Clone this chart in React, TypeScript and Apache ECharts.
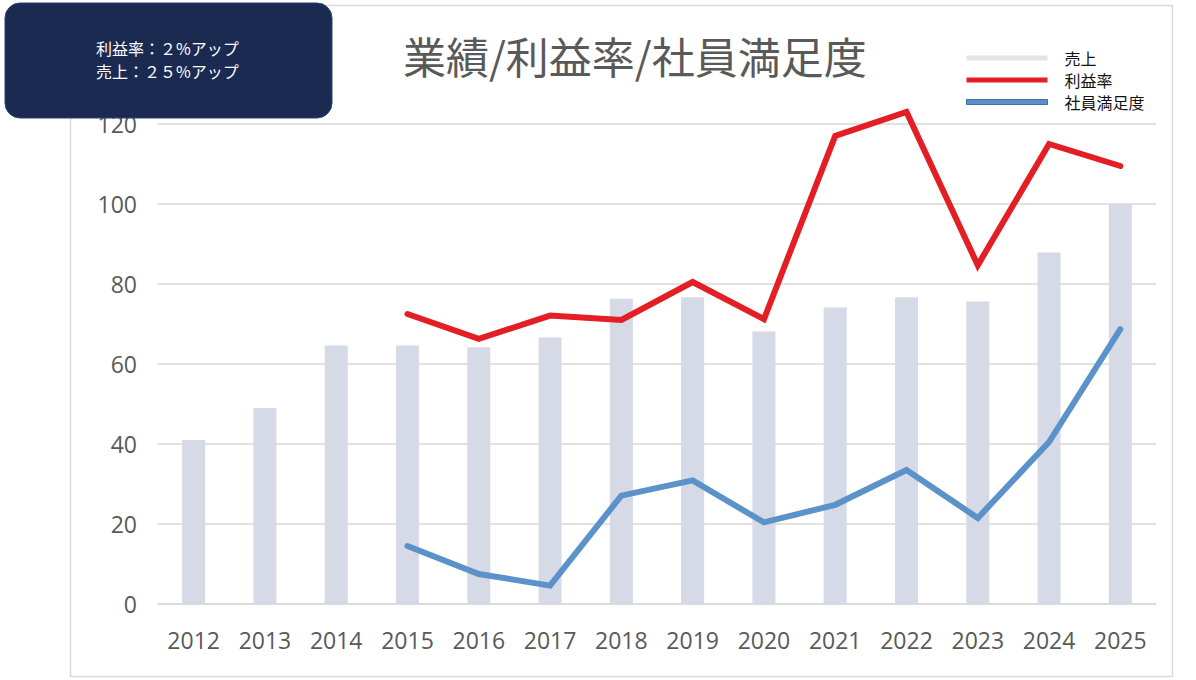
import React, { useEffect, useRef } from "react";
import * as echarts from "echarts";

const years = ["2012", "2013", "2014", "2015", "2016", "2017", "2018", "2019", "2020", "2021", "2022", "2023", "2024", "2025"];
const sales = [41, 49, 64.6, 64.6, 64.2, 66.6, 76.3, 76.7, 68.1, 74.1, 76.7, 75.6, 87.9, 100];
const profitRate = [null, null, null, 72.5, 66.3, 72.1, 71, 80.5, 71.2, 117, 123, 84.7, 115, 109.5];
const satisfaction = [null, null, null, 14.5, 7.5, 4.6, 27.1, 30.9, 20.4, 24.8, 33.5, 21.5, 40.5, 68.7];
const yTicks = [0, 20, 40, 60, 80, 100, 120];
const seriesNames = ["売上", "利益率", "社員満足度"];
const titleText = "業績/利益率/社員満足度";
const noteLines = ["利益率：２%アップ", "売上：２５%アップ"];

const FONT = "'Noto Sans CJK JP', 'Noto Sans', sans-serif";
const NUM_FONT = "'Open Sans', sans-serif";

export default function App() {
  const ref = useRef<HTMLDivElement>(null);
  useEffect(() => {
    document.body.style.margin = "0";
    if (!ref.current) return;
    const chart = echarts.init(ref.current, null, { renderer: "svg" });
    chart.setOption({
      animation: false,
      backgroundColor: "#ffffff",
      textStyle: { fontFamily: FONT },
      title: {
        text: titleText,
        left: 398,
        top: 28,
        textStyle: { fontSize: 43, fontWeight: "normal", color: "#595959", fontFamily: FONT },
      },
      legend: {
        orient: "vertical",
        left: 961,
        top: 45,
        itemWidth: 81,
        itemHeight: 5,
        itemGap: 6,
        selectedMode: false,
        textStyle: { fontSize: 16, lineHeight: 16, color: "#111111", padding: [0, 0, 0, 12], fontFamily: FONT },
        data: [
          { name: seriesNames[0], icon: "rect", itemStyle: { color: "#e4e4e4" } },
          { name: seriesNames[1], icon: "rect", itemStyle: { color: "#e31e24" } },
          { name: seriesNames[2], icon: "rect", itemStyle: { color: "#5b8fc8", borderColor: "#3f6fa5", borderWidth: 1 } },
        ],
      },
      grid: { left: 158, right: 40, top: 124, bottom: 76, containLabel: false },
      xAxis: {
        type: "category",
        data: years,
        axisLine: { show: true, lineStyle: { color: "#d9d9d9", width: 1.5 } },
        axisTick: { show: false },
        axisLabel: { fontSize: 23, color: "#595959", margin: 24, fontFamily: NUM_FONT },
      },
      yAxis: {
        type: "value",
        min: yTicks[0],
        max: yTicks[yTicks.length - 1],
        interval: 20,
        axisLine: { show: false },
        axisTick: { show: false },
        splitLine: { lineStyle: { color: "#d9d9d9", width: 1.5 } },
        axisLabel: { fontSize: 23, color: "#595959", margin: 21, fontFamily: NUM_FONT },
      },
      series: [
        {
          name: seriesNames[0],
          type: "bar",
          data: sales,
          barWidth: 23,
          itemStyle: { color: "#d5dae6" },
        },
        {
          name: seriesNames[1],
          type: "line",
          data: profitRate,
          showSymbol: false,
          symbol: "none",
          clip: false,
          connectNulls: false,
          lineStyle: { color: "#e31e24", width: 6, cap: "round", join: "miter" },
          itemStyle: { color: "#e31e24" },
        },
        {
          name: seriesNames[2],
          type: "line",
          data: satisfaction,
          showSymbol: false,
          symbol: "none",
          clip: false,
          lineStyle: { color: "#5a92c9", width: 6, cap: "round", join: "miter" },
          itemStyle: { color: "#5a92c9" },
        },
      ],
      graphic: [
        {
          type: "rect",
          z: -10,
          silent: true,
          shape: { x: 70.5, y: 5.5, width: 1102, height: 671 },
          style: { fill: "none", stroke: "#d9d9d9", lineWidth: 1.5 },
        },
        {
          type: "rect",
          z: 100,
          silent: true,
          shape: { x: 5, y: 3, width: 327, height: 115, r: 15 },
          style: { fill: "#1b2a51", stroke: "#2c4373", lineWidth: 1 },
        },
        {
          type: "text",
          z: 101,
          silent: true,
          x: 96,
          y: 36,
          style: {
            text: noteLines.join("\n"),
            fill: "#ffffff",
            fontSize: 16,
            lineHeight: 23,
            fontFamily: FONT,
          },
        },
      ],
    });
    return () => chart.dispose();
  }, []);
  return <div ref={ref} style={{ width: 1196, height: 680 }} />;
}
